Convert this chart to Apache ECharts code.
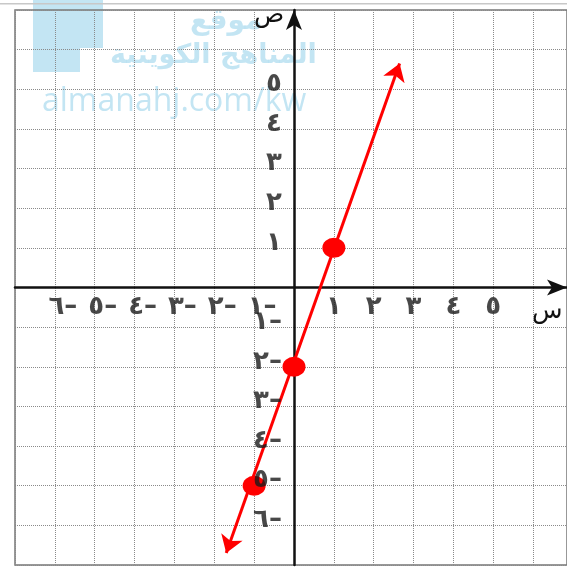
<!DOCTYPE html>
<html>
<head>
<meta charset="utf-8">
<script src="https://cdn.jsdelivr.net/npm/echarts@6/dist/echarts.min.js"></script>
<style>
  html, body { margin: 0; padding: 0; background: #fff; }
  #map { width: 567px; height: 567px; }
</style>
</head>
<body>
<div id="map"></div>
<script>
// tick labels that are printed on each axis
let xTicks = [-6, -5, -4, -3, -2, -1, 1, 2, 3, 4, 5];
let yTicks = [-6, -5, -4, -3, -2, -1, 1, 2, 3, 4, 5];
let digits = ['٠', '١', '٢', '٣', '٤', '٥', '٦', '٧'];
// the three marked points and the two ends of the drawn line
let points = [[1, 1], [0, -2], [-1, -5]];
let lineEnds = [[-1.7, -6.7], [2.65, 5.65]];

let font = 'DejaVu Sans';
function arabic(v){
    return digits[Math.abs(v)] + (v < 0 ? '–' : '');
}
let labelText = {
    color: '#1a1a1a',
    fontFamily: font,
    fontWeight: 'bold',
    fontSize: 26,
    lineHeight: 20
};

let myChart = echarts.init(document.getElementById('map'));
let axisCommon = {
    type: 'value',
    interval: 1,
    axisLine: {
        onZero: true,
        lineStyle: {color: '#111', width: 2.5},
        symbol: ['none', 'arrow'],
        symbolSize: [12, 20]
    },
    axisTick: {show: false},
    axisLabel: {show: false},
    splitLine: {lineStyle: {color: '#8a8a8a', type: 'dotted', width: 1}}
};
let option = {
    backgroundColor: '#fff',
    animation: false,
    grid: {
        left: 15,
        top: 10,
        width: 552,
        height: 555,
        containLabel: false,
        outerBoundsMode: 'none',
        show: true,
        borderColor: '#777',
        borderWidth: 1.5
    },
    graphic: [
        // page edge line at the very top
        {type: 'rect', shape: {x: 0, y: 3, width: 567, height: 1.5}, style: {fill: '#c8c8c8'}, silent: true},
        // watermark
        {type: 'polygon', shape: {points: [[33, 0], [103, 0], [103, 48], [80, 48], [80, 72], [33, 72]]},
            style: {fill: '#b4def0', opacity: 0.8}, silent: true, z: -1},
        {type: 'text', left: 190, top: 8, style: {text: 'موقع', fill: '#b4def0', opacity: 0.8,
            font: 'bold 28px "DejaVu Sans"'}, silent: true, z: -1},
        {type: 'text', left: 110, top: 42, style: {text: 'المناهج الكويتية', fill: '#b4def0', opacity: 0.8,
            font: 'bold 27px "DejaVu Sans"'}, silent: true, z: -1},
        {type: 'text', left: 42, top: 86, style: {text: 'almanahj.com/kw', fill: '#b4def0', opacity: 0.8,
            font: '32px "Open Sans"'}, silent: true, z: -1},
        // axis names
        {type: 'text', left: 532, top: 299, style: {text: 'س', fill: '#111', font: '25px "DejaVu Sans"'}, silent: true},
        {type: 'text', left: 254, top: 3, style: {text: 'ص', fill: '#111', font: '25px "DejaVu Sans"'}, silent: true}
    ],
    xAxis: Object.assign({}, axisCommon, {min: -7, max: 6.85}),
    yAxis: Object.assign({}, axisCommon, {min: -7, max: 7}),
    series: [
        {
            type: 'lines',
            coordinateSystem: 'cartesian2d',
            data: [{coords: lineEnds}],
            symbol: ['arrow', 'arrow'],
            symbolSize: 17,
            lineStyle: {color: '#ff0000', width: 3, opacity: 1},
            z: 3,
            silent: true
        },
        {
            type: 'scatter',
            data: points,
            symbol: 'circle',
            symbolSize: [23, 20],
            itemStyle: {color: '#ff0000', opacity: 1},
            z: 4
        },
        // tick numbers along the x axis
        {
            type: 'scatter',
            symbolSize: 0,
            silent: true,
            data: xTicks.map(v => ({
                value: [v, 0],
                label: {offset: [v < 0 ? 8 : 0, 0]}
            })),
            label: Object.assign({
                show: true,
                position: 'bottom',
                distance: 10,
                formatter: p => arabic(p.value[0])
            }, labelText),
            z: 5
        },
        // tick numbers along the y axis
        {
            type: 'scatter',
            symbolSize: 0,
            silent: true,
            data: yTicks.map(v => [0, v]),
            label: Object.assign({
                show: true,
                position: 'left',
                distance: 12,
                offset: [0, -5],
                formatter: p => arabic(p.value[1])
            }, labelText),
            z: 5
        }
    ]
};
myChart.setOption(option);
</script>
</body>
</html>
